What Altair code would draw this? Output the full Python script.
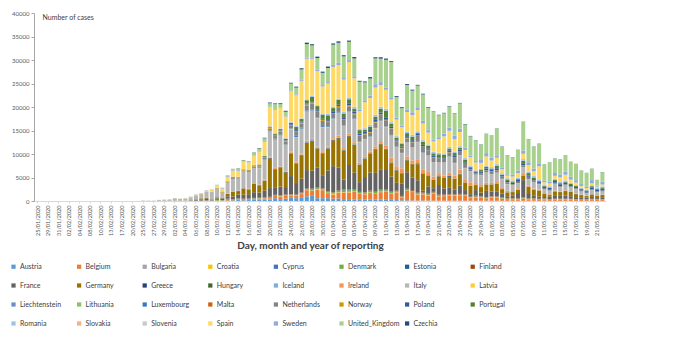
import altair as alt
import pandas as pd

DATES = [
    "25/01/2020", "27/01/2020", "29/01/2020", "30/01/2020", "31/01/2020", "01/02/2020", "02/02/2020",
    "03/02/2020", "04/02/2020", "06/02/2020", "08/02/2020", "09/02/2020", "10/02/2020", "12/02/2020",
    "13/02/2020", "15/02/2020", "17/02/2020", "18/02/2020", "20/02/2020", "22/02/2020", "25/02/2020",
    "26/02/2020", "27/02/2020", "28/02/2020", "29/02/2020", "01/03/2020",
    "02/03/2020", "03/03/2020", "04/03/2020", "05/03/2020", "06/03/2020", "07/03/2020", "08/03/2020",
    "09/03/2020", "10/03/2020", "11/03/2020", "12/03/2020", "13/03/2020", "14/03/2020", "15/03/2020",
    "16/03/2020", "17/03/2020", "18/03/2020", "19/03/2020", "20/03/2020", "21/03/2020", "22/03/2020",
    "23/03/2020", "24/03/2020", "25/03/2020", "26/03/2020", "27/03/2020", "28/03/2020", "29/03/2020",
    "30/03/2020", "31/03/2020",
    "01/04/2020", "02/04/2020", "03/04/2020", "04/04/2020", "05/04/2020", "06/04/2020", "07/04/2020",
    "08/04/2020", "09/04/2020", "10/04/2020", "11/04/2020", "12/04/2020", "13/04/2020", "14/04/2020",
    "15/04/2020", "16/04/2020", "17/04/2020", "18/04/2020", "19/04/2020", "20/04/2020", "21/04/2020",
    "22/04/2020", "23/04/2020", "24/04/2020", "25/04/2020", "26/04/2020", "27/04/2020", "28/04/2020",
    "29/04/2020", "30/04/2020",
    "01/05/2020", "02/05/2020", "03/05/2020", "04/05/2020", "05/05/2020", "06/05/2020", "07/05/2020",
    "08/05/2020", "09/05/2020", "10/05/2020", "11/05/2020", "12/05/2020", "13/05/2020", "14/05/2020",
    "15/05/2020", "16/05/2020", "17/05/2020", "18/05/2020", "19/05/2020", "20/05/2020", "21/05/2020",
    "22/05/2020",
]

Y_TICKS = [0, 5000, 10000, 15000, 20000, 25000, 30000, 35000, 40000]

COUNTRIES = [
    "Austria", "Belgium", "Bulgaria", "Croatia", "Cyprus", "Denmark", "Estonia", "Finland",
    "France", "Germany", "Greece", "Hungary", "Iceland", "Ireland", "Italy", "Latvia",
    "Liechtenstein", "Lithuania", "Luxembourg", "Malta", "Netherlands", "Norway", "Poland", "Portugal",
    "Romania", "Slovakia", "Slovenia", "Spain", "Sweden", "United_Kingdom", "Czechia",
]

COLORS = [
    "#5B9BD5", "#ED7D31", "#A5A5A5", "#FFC000", "#4472C4", "#70AD47", "#255E91", "#9E480E",
    "#636363", "#997300", "#264478", "#43682B", "#7CAFDD", "#F1975A", "#B7B7B7", "#FFCD33",
    "#698ED0", "#8CC168", "#327DC2", "#D26012", "#848484", "#CC9A00", "#335AA1", "#548235",
    "#9DC3E6", "#F4B183", "#C9C9C9", "#FFD966", "#8FAADC", "#A9D18E", "#1F4E79",
]

# values per reporting date, same order as DATES
AUSTRIA = [
    0, 0, 0, 0, 0, 0, 0, 0, 0, 0, 0, 0, 0, 0, 0, 0, 0, 0, 0, 0, 0, 2, 1, 0, 5, 4,
    4, 4, 2, 10, 12, 14, 25, 31, 27, 51,
    100, 140, 200, 150, 200, 300, 350, 300, 300, 600,
    400, 500, 800, 600, 800, 1000, 1100, 600, 600, 600,
    500, 550, 400, 400, 300, 250, 300, 300, 300, 300,
    250, 250, 200, 150, 150, 100, 100, 100, 80, 80,
    60, 60, 70, 70, 70, 60, 60, 50, 50, 60,
    60, 60, 50, 40, 40, 40, 40, 40, 40, 30,
    30, 30, 30, 30, 30, 30, 30, 30, 30, 30,
    20, 30,
]
BELGIUM = [
    0, 0, 0, 0, 0, 0, 0, 0, 1, 0, 0, 0, 0, 0, 0, 0, 0, 0, 0, 0, 0, 0, 0, 0, 0, 1,
    0, 1, 5, 10, 27, 59, 60, 31, 39, 28,
    130, 85, 160, 130, 200, 170, 185, 243, 309, 462,
    558, 586, 342, 526, 668, 1298, 1049, 1850, 1702, 1063,
    876, 1189, 1384, 1422, 1661, 1260, 1123, 1380, 1209, 1580,
    1684, 1351, 1629, 530, 2000, 1800, 1236, 1329, 1045, 1487,
    933, 973, 1035, 1000, 1032, 1033, 553, 701, 647, 502,
    660, 600, 455, 361, 323, 240, 500, 300, 356, 244,
    309, 197, 264, 279, 290, 297, 228, 196, 215, 274,
    299, 263,
]
BULGARIA = [
    0, 0, 0, 0, 0, 0, 0, 0, 0, 0, 0, 0, 0, 0, 0, 0, 0, 0, 0, 0, 0, 0, 0, 0, 0, 0,
    0, 0, 0, 0, 0, 0, 0, 2, 2, 2,
    0, 3, 16, 3, 8, 10, 22, 11, 17, 30,
    34, 26, 38, 16, 22, 22, 28, 50, 20, 49,
    40, 22, 50, 25, 32, 20, 24, 30, 18, 53,
    30, 40, 47, 35, 46, 22, 43, 29, 57, 53,
    24, 58, 40, 48, 43, 50, 84, 56, 38, 30,
    43, 86, 37, 22, 38, 58, 29, 30, 25, 15,
    32, 24, 39, 25, 27, 15, 32, 24, 26, 24,
    26, 15,
]
CROATIA = [
    0, 0, 0, 0, 0, 0, 0, 0, 0, 0, 0, 0, 0, 0, 0, 0, 0, 0, 0, 0, 0, 2, 1, 2, 0, 2,
    4, 0, 1, 1, 0, 0, 1, 0, 0, 2,
    2, 8, 7, 13, 16, 14, 8, 14, 26, 24,
    67, 52, 52, 40, 60, 59, 71, 61, 56, 55,
    96, 96, 91, 79, 49, 50, 46, 100, 46, 55,
    55, 44, 62, 41, 36, 44, 42, 59, 59, 20,
    28, 21, 42, 43, 31, 18, 19, 17, 16, 11,
    19, 9, 6, 0, 10, 10, 4, 12, 17, 13,
    8, 2, 1, 6, 3, 1, 0, 2, 1, 0,
    1, 3,
]
CYPRUS = [
    0, 0, 0, 0, 0, 0, 0, 0, 0, 0, 0, 0, 0, 0, 0, 0, 0, 0, 0, 0, 0, 0, 0, 0, 0, 0,
    0, 0, 0, 0, 0, 0, 0, 0, 2, 4,
    0, 0, 0, 7, 0, 19, 0, 12, 25, 26,
    0, 75, 21, 19, 14, 17, 14, 16, 17, 8,
    58, 26, 0, 54, 15, 17, 20, 21, 10, 30,
    28, 23, 0, 0, 8, 15, 0, 12, 28, 11,
    0, 0, 5, 0, 4, 11, 11, 5, 7, 3,
    3, 5, 1, 5, 3, 3, 2, 2, 0, 2,
    2, 4, 2, 2, 1, 1, 0, 0, 2, 0,
    1, 2,
]
DENMARK = [
    0, 0, 0, 0, 0, 0, 0, 0, 0, 0, 0, 0, 0, 0, 0, 0, 0, 0, 0, 0, 0, 0, 0, 1, 0, 0,
    0, 1, 5, 5, 10, 8, 18, 50, 172, 89,
    200, 60, 130, 50, 30, 60, 70, 100, 100, 50,
    60, 40, 90, 100, 150, 150, 200, 150, 200, 200,
    250, 250, 350, 300, 300, 300, 300, 300, 350, 300,
    200, 180, 150, 200, 200, 150, 200, 150, 150, 150,
    150, 150, 150, 150, 150, 150, 120, 150, 150, 130,
    130, 120, 130, 100, 120, 120, 120, 100, 100, 100,
    80, 80, 80, 80, 80, 70, 70, 70, 70, 70,
    50, 60,
]
ESTONIA = [
    0, 0, 0, 0, 0, 0, 0, 0, 0, 0, 0, 0, 0, 0, 0, 0, 0, 0, 0, 0, 0, 0, 0, 1, 0, 0,
    0, 0, 0, 0, 1, 2, 4, 0, 3, 0,
    8, 6, 27, 80, 36, 47, 28, 57, 76, 46,
    48, 26, 44, 20, 35, 36, 52, 37, 56, 80,
    26, 34, 78, 70, 65, 68, 22, 48, 47, 41,
    56, 97, 40, 29, 28, 27, 29, 28, 43, 24,
    43, 24, 25, 10, 40, 10, 13, 27, 11, 36,
    6, 30, 7, 5, 8, 12, 13, 7, 7, 8,
    6, 5, 8, 8, 8, 5, 12, 11, 4, 5,
    6, 3,
]
FINLAND = [
    0, 0, 1, 0, 0, 0, 0, 0, 0, 0, 0, 0, 0, 0, 0, 0, 0, 0, 0, 0, 0, 0, 1, 0, 0, 0,
    1, 0, 4, 1, 6, 3, 3, 15, 10, 10,
    69, 45, 47, 70, 38, 43, 27, 40, 40, 80,
    71, 100, 80, 50, 74, 78, 122, 94, 90, 72,
    70, 86, 79, 77, 81, 168, 59, 100, 130, 100,
    150, 114, 118, 103, 150, 170, 128, 80, 150, 121,
    110, 102, 134, 79, 150, 90, 100, 121, 60, 83,
    96, 56, 90, 89, 65, 110, 90, 100, 76, 67,
    62, 60, 70, 69, 40, 60, 47, 36, 48, 59,
    39, 30,
]
FRANCE = [
    3, 0, 1, 0, 1, 0, 0, 0, 0, 0, 5, 0, 0, 0, 0, 1, 0, 0, 0, 0, 2, 2, 3, 20, 19, 43,
    12, 61, 21, 73, 138, 190, 336, 177, 286, 372,
    497, 595, 785, 838, 924, 1210, 1097, 1404, 1861, 1617,
    1847, 1559, 3838, 2446, 2931, 3922, 3809, 4300, 2599, 4376,
    5500, 4861, 2116, 5233, 3500, 1873, 3200, 3777, 3881, 4286,
    4342, 3114, 1613, 2673, 3500, 2633, 2641, 405, 1500, 785,
    2051, 1283, 1300, 1000, 1800, 900, 500, 1200, 800, 1300,
    1000, 1100, 800, 400, 600, 1100, 3640, 1100, 600, 500,
    300, 500, 600, 600, 700, 550, 400, 300, 300, 400,
    200, 400,
]
GERMANY = [
    0, 1, 3, 0, 1, 1, 0, 1, 2, 2, 1, 0, 0, 2, 0, 0, 0, 0, 0, 0, 0, 2, 4, 10, 30, 22,
    10, 28, 28, 66, 138, 284, 163, 55, 237, 157,
    500, 1000, 700, 1300, 1000, 1800, 1500, 2100, 6300, 3800,
    4000, 3100, 4764, 4118, 4954, 5780, 6294, 3965, 4751, 4615,
    5453, 6156, 6174, 6082, 5936, 3677, 3834, 4003, 4974, 5323,
    4133, 2821, 2537, 2082, 2486, 2866, 3380, 3609, 2200, 1775,
    1785, 2237, 2352, 2337, 2337, 1514, 1737, 1018, 1144, 1304,
    1478, 1639, 945, 793, 679, 685, 947, 1284, 1209, 1251,
    667, 357, 933, 798, 933, 913, 620, 583, 342, 513,
    500, 460,
]
GREECE = [
    0, 0, 0, 0, 0, 0, 0, 0, 0, 0, 0, 0, 0, 0, 0, 0, 0, 0, 0, 0, 0, 0, 1, 2, 0, 3,
    0, 1, 2, 3, 21, 0, 41, 7, 10, 6,
    9, 40, 73, 38, 35, 23, 64, 31, 100, 48,
    94, 94, 71, 70, 48, 71, 95, 72, 74, 72,
    102, 129, 74, 90, 42, 62, 60, 60, 56, 54,
    90, 50, 90, 40, 18, 25, 14, 29, 30, 18,
    0, 11, 155, 0, 28, 13, 13, 21, 10, 15,
    16, 12, 4, 10, 7, 15, 15, 20, 4, 5,
    0, 3, 11, 0, 8, 5, 10, 2, 0, 8,
    13, 0,
]
HUNGARY = [
    0, 0, 0, 0, 0, 0, 0, 0, 0, 0, 0, 0, 0, 0, 0, 0, 0, 0, 0, 0, 0, 0, 0, 0, 0, 0,
    0, 0, 1, 1, 1, 0, 2, 2, 2, 4,
    3, 3, 0, 11, 3, 11, 8, 11, 23, 18,
    18, 21, 36, 38, 40, 40, 39, 35, 31, 36,
    45, 33, 38, 56, 55, 16, 64, 50, 73, 78,
    85, 111, 77, 60, 99, 68, 210, 78, 100, 50,
    114, 100, 100, 58, 97, 86, 72, 54, 65, 66,
    40, 25, 20, 40, 30, 30, 47, 25, 23, 27,
    37, 32, 23, 26, 44, 35, 39, 16, 40, 30,
    10, 15,
]
ICELAND = [
    0, 0, 0, 0, 0, 0, 0, 0, 0, 0, 0, 0, 0, 0, 0, 0, 0, 0, 0, 0, 0, 0, 0, 0, 1, 2,
    3, 5, 6, 8, 8, 5, 8, 10, 15, 10,
    10, 24, 39, 27, 56, 24, 31, 32, 80, 36,
    68, 55, 97, 91, 78, 70, 95, 73, 37, 65,
    56, 99, 64, 66, 60, 35, 62, 34, 25, 50,
    27, 19, 28, 12, 10, 14, 12, 7, 9, 6,
    6, 5, 7, 1, 1, 4, 3, 1, 2, 1,
    0, 0, 2, 1, 0, 0, 2, 0, 0, 1,
    0, 0, 0, 0, 0, 0, 1, 0, 0, 0,
    0, 0,
]
IRELAND = [
    0, 0, 0, 0, 0, 0, 0, 0, 0, 0, 0, 0, 0, 0, 0, 0, 0, 0, 0, 0, 0, 0, 0, 0, 0, 1,
    0, 1, 0, 4, 1, 5, 5, 2, 0, 10,
    9, 27, 20, 40, 40, 40, 70, 190, 190, 200,
    100, 120, 200, 200, 250, 300, 250, 300, 200, 300,
    300, 400, 400, 400, 400, 400, 400, 350, 500, 500,
    600, 1000, 800, 1000, 700, 700, 700, 800, 700, 600,
    600, 400, 600, 600, 900, 700, 700, 400, 400, 400,
    300, 300, 200, 300, 200, 300, 300, 200, 200, 200,
    150, 150, 150, 100, 100, 100, 80, 60, 60, 60,
    40, 50,
]
ITALY = [
    0, 0, 0, 0, 2, 0, 0, 0, 0, 0, 0, 0, 0, 0, 0, 0, 0, 0, 0, 17, 93, 78, 70, 200, 238, 240,
    561, 347, 466, 587, 769, 778, 1247, 1492, 1797, 977,
    2313, 2651, 2547, 3497, 3590, 3233, 3526, 4207, 5322, 5986,
    6557, 5560, 4789, 5249, 5210, 6153, 5959, 5974, 5217, 4050,
    4053, 4782, 4668, 4585, 4805, 4316, 3599, 3039, 3836, 4204,
    3951, 4694, 4092, 3153, 2972, 2667, 3786, 3493, 3491, 3047,
    2256, 2729, 3370, 2646, 3021, 2357, 2324, 1739, 2091, 2086,
    1872, 1965, 1900, 1389, 1221, 1075, 1444, 1401, 1327, 1083,
    802, 744, 1402, 888, 992, 789, 875, 675, 451, 813,
    665, 642,
]
LATVIA = [
    0, 0, 0, 0, 0, 0, 0, 0, 0, 0, 0, 0, 0, 0, 0, 0, 0, 0, 0, 0, 0, 0, 0, 0, 0, 0,
    0, 0, 0, 0, 1, 0, 0, 0, 1, 3,
    5, 1, 7, 12, 4, 4, 26, 11, 21, 25,
    13, 15, 32, 17, 24, 17, 42, 25, 16, 30,
    47, 20, 27, 28, 29, 20, 20, 15, 19, 11,
    17, 14, 7, 12, 15, 21, 10, 24, 14, 8,
    9, 10, 7, 9, 11, 22, 15, 14, 9, 15,
    6, 6, 16, 18, 4, 6, 5, 10, 6, 2,
    12, 3, 11, 11, 10, 1, 7, 4, 5, 1,
    8, 5,
]
LIECHTENSTEIN = [
    0, 0, 0, 0, 0, 0, 0, 0, 0, 0, 0, 0, 0, 0, 0, 0, 0, 0, 0, 0, 0, 0, 0, 0, 0, 0,
    0, 0, 0, 0, 0, 0, 0, 0, 0, 0,
    0, 3, 0, 1, 1, 0, 0, 0, 3, 11,
    5, 2, 0, 4, 12, 5, 0, 5, 1, 6,
    0, 3, 0, 0, 0, 6, 2, 1, 0, 0,
    1, 0, 0, 1, 0, 0, 2, 0, 0, 0,
    0, 0, 0, 1, 0, 0, 0, 0, 0, 0,
    0, 0, 0, 0, 0, 0, 0, 0, 0, 0,
    0, 0, 0, 0, 0, 0, 0, 0, 0, 0,
    0, 0,
]
LITHUANIA = [
    0, 0, 0, 0, 0, 0, 0, 0, 0, 0, 0, 0, 0, 0, 0, 0, 0, 0, 0, 0, 0, 0, 0, 1, 0, 0,
    0, 0, 0, 0, 0, 0, 0, 0, 0, 2,
    0, 3, 6, 0, 3, 6, 10, 0, 23, 21,
    25, 26, 52, 26, 33, 42, 36, 34, 76, 58,
    84, 76, 47, 59, 71, 21, 20, 70, 79, 45,
    75, 44, 25, 57, 37, 64, 29, 26, 28, 13,
    23, 24, 51, 30, 49, 18, 22, 34, 26, 25,
    14, 21, 49, 16, 16, 10, 10, 21, 17, 12,
    21, 7, 14, 18, 24, 16, 25, 10, 10, 11,
    20, 28,
]
LUXEMBOURG = [
    0, 0, 0, 0, 0, 0, 0, 0, 0, 0, 0, 0, 0, 0, 0, 0, 0, 0, 0, 0, 0, 0, 0, 0, 0, 1,
    0, 0, 0, 1, 1, 1, 2, 0, 2, 2,
    3, 12, 7, 8, 21, 30, 59, 63, 135, 186,
    127, 86, 77, 224, 164, 152, 234, 120, 180, 156,
    95, 130, 100, 85, 140, 80, 40, 83, 140, 90,
    70, 90, 41, 57, 22, 34, 43, 90, 50, 27,
    17, 18, 34, 30, 26, 20, 20, 9, 10, 11,
    15, 7, 17, 10, 4, 2, 14, 15, 16, 6,
    3, 10, 17, 5, 6, 9, 6, 2, 0, 3,
    6, 8,
]
MALTA = [
    0, 0, 0, 0, 0, 0, 0, 0, 0, 0, 0, 0, 0, 0, 0, 0, 0, 0, 0, 0, 0, 0, 0, 0, 0, 0,
    0, 0, 0, 0, 0, 0, 0, 1, 2, 2,
    1, 3, 0, 9, 6, 7, 6, 8, 11, 16,
    12, 9, 17, 10, 20, 19, 17, 22, 12, 17,
    15, 11, 11, 11, 11, 9, 21, 10, 34, 16,
    7, 8, 10, 7, 2, 8, 0, 7, 4, 5,
    9, 6, 1, 5, 3, 1, 3, 1, 3, 11,
    0, 4, 0, 5, 2, 5, 3, 4, 0, 4,
    0, 2, 3, 7, 3, 5, 0, 1, 5, 2,
    3, 2,
]
NETHERLANDS = [
    0, 0, 0, 0, 0, 0, 0, 0, 0, 0, 0, 0, 0, 0, 0, 0, 0, 0, 0, 0, 0, 0, 0, 1, 6, 5,
    5, 8, 6, 14, 44, 46, 60, 77, 56, 61,
    121, 190, 155, 190, 176, 278, 292, 346, 409, 534,
    637, 573, 545, 811, 852, 1019, 1172, 1159, 1104, 884,
    845, 1019, 1083, 1026, 904, 1224, 952, 777, 969, 1213,
    1335, 1316, 1174, 964, 867, 1061, 1235, 1140, 1066, 964,
    750, 729, 887, 1066, 655, 808, 400, 171, 400, 386,
    514, 475, 445, 335, 199, 232, 386, 455, 319, 252,
    245, 161, 196, 199, 227, 183, 203, 167, 150, 174,
    188, 176,
]
NORWAY = [
    0, 0, 0, 0, 0, 0, 0, 0, 0, 0, 0, 0, 0, 0, 0, 0, 0, 0, 0, 0, 0, 0, 1, 5, 0, 9,
    0, 6, 8, 16, 30, 60, 30, 30, 80, 208,
    150, 200, 100, 150, 100, 120, 150, 150, 200, 150,
    200, 200, 200, 250, 250, 300, 300, 250, 250, 200,
    200, 250, 200, 250, 150, 150, 150, 150, 150, 100,
    100, 100, 100, 100, 100, 100, 100, 100, 100, 80,
    80, 80, 70, 70, 70, 60, 60, 50, 50, 50,
    50, 50, 40, 30, 30, 30, 30, 30, 30, 20,
    20, 20, 20, 20, 20, 20, 20, 20, 20, 20,
    10, 20,
]
POLAND = [
    0, 0, 0, 0, 0, 0, 0, 0, 0, 0, 0, 0, 0, 0, 0, 0, 0, 0, 0, 0, 0, 0, 0, 0, 0, 0,
    0, 0, 1, 0, 4, 1, 6, 5, 5, 9,
    20, 20, 17, 40, 30, 50, 80, 70, 70, 110,
    100, 100, 150, 180, 200, 170, 250, 200, 200, 200,
    250, 250, 400, 400, 400, 300, 400, 400, 400, 400,
    400, 300, 300, 300, 350, 350, 350, 350, 300, 300,
    250, 300, 350, 350, 400, 300, 300, 300, 300, 400,
    400, 400, 300, 300, 300, 400, 400, 300, 300, 300,
    300, 400, 400, 400, 400, 300, 300, 300, 300, 400,
    300, 400,
]
PORTUGAL = [
    0, 0, 0, 0, 0, 0, 0, 0, 0, 0, 0, 0, 0, 0, 0, 0, 0, 0, 0, 0, 0, 0, 0, 0, 0, 0,
    0, 2, 2, 3, 4, 8, 9, 9, 20, 11,
    40, 19, 34, 57, 80, 86, 117, 194, 143, 235,
    260, 320, 302, 633, 549, 724, 902, 792, 902, 1035,
    808, 1035, 783, 852, 638, 754, 452, 712, 699, 815,
    1516, 598, 349, 514, 643, 750, 181, 657, 500, 521,
    629, 516, 371, 603, 444, 595, 163, 183, 295, 345,
    178, 553, 92, 326, 242, 178, 533, 480, 334, 138,
    163, 98, 234, 219, 187, 288, 226, 98, 173, 252,
    219, 288,
]
ROMANIA = [
    0, 0, 0, 0, 0, 0, 0, 0, 0, 0, 0, 0, 0, 0, 0, 0, 0, 0, 0, 0, 0, 0, 1, 0, 0, 2,
    0, 0, 0, 1, 2, 1, 2, 6, 4, 10,
    20, 15, 20, 30, 40, 50, 60, 60, 70, 60,
    100, 90, 140, 190, 130, 150, 200, 200, 200, 300,
    300, 250, 300, 350, 400, 300, 300, 350, 400, 400,
    400, 400, 300, 300, 350, 350, 350, 350, 300, 300,
    300, 300, 350, 300, 300, 300, 200, 200, 250, 300,
    300, 300, 300, 250, 250, 300, 350, 300, 300, 300,
    250, 250, 250, 250, 250, 200, 200, 200, 200, 200,
    150, 200,
]
SLOVAKIA = [
    0, 0, 0, 0, 0, 0, 0, 0, 0, 0, 0, 0, 0, 0, 0, 0, 0, 0, 0, 0, 0, 0, 0, 0, 0, 0,
    0, 0, 0, 0, 0, 1, 0, 2, 3, 1,
    7, 11, 3, 11, 32, 28, 31, 11, 64, 56,
    17, 47, 20, 19, 27, 41, 22, 19, 22, 25,
    37, 23, 24, 74, 40, 25, 51, 34, 21, 44,
    20, 14, 36, 2, 12, 19, 9, 10, 31, 31,
    37, 15, 3, 14, 11, 16, 40, 22, 7, 11,
    9, 25, 9, 3, 7, 6, 0, 8, 18, 6,
    1, 2, 4, 3, 1, 11, 0, 2, 3, 3,
    2, 4,
]
SLOVENIA = [
    0, 0, 0, 0, 0, 0, 0, 0, 0, 0, 0, 0, 0, 0, 0, 0, 0, 0, 0, 0, 0, 0, 0, 0, 0, 0,
    0, 0, 0, 1, 6, 1, 4, 8, 16, 7,
    41, 45, 45, 34, 78, 34, 39, 55, 34, 50,
    69, 31, 47, 34, 35, 40, 37, 30, 46, 46,
    38, 36, 32, 36, 21, 19, 33, 30, 25, 23,
    32, 19, 17, 11, 33, 24, 12, 14, 24, 11,
    8, 5, 22, 10, 12, 6, 4, 6, 7, 4,
    12, 4, 5, 0, 6, 1, 4, 3, 2, 2,
    3, 2, 2, 3, 0, 1, 0, 1, 0, 1,
    2, 2,
]
SPAIN = [
    0, 0, 0, 0, 0, 1, 0, 0, 0, 0, 0, 0, 1, 0, 0, 0, 0, 0, 0, 0, 4, 6, 3, 10, 13, 15,
    10, 45, 15, 60, 110, 140, 150, 380, 560, 570,
    870, 1270, 1300, 1520, 1440, 1980, 2540, 2830, 4000, 4950,
    4350, 4510, 6584, 6500, 7937, 8578, 7871, 7200, 5700, 6398,
    8400, 7100, 6850, 7472, 6023, 3700, 5478, 5700, 5756, 4576,
    4000, 4800, 3477, 3268, 4100, 4200, 4500, 3500, 2500, 2200,
    2900, 3600, 3400, 2600, 3000, 1729, 1831, 1650, 1270, 1900,
    1400, 1366, 838, 545, 800, 996, 1122, 1410, 1000, 2800,
    500, 600, 594, 1000, 1200, 643, 500, 400, 300, 400,
    300, 400,
]
SWEDEN = [
    0, 0, 0, 0, 1, 0, 0, 0, 0, 0, 0, 0, 0, 0, 0, 0, 0, 0, 0, 0, 0, 0, 5, 1, 6, 0,
    3, 2, 7, 20, 35, 40, 60, 42, 45, 122,
    150, 120, 150, 100, 80, 110, 100, 140, 130, 150,
    120, 100, 150, 200, 300, 250, 300, 350, 300, 300,
    400, 500, 500, 400, 400, 350, 400, 500, 700, 600,
    500, 450, 450, 350, 500, 600, 600, 600, 500, 400,
    400, 600, 700, 800, 700, 500, 300, 300, 600, 700,
    600, 500, 400, 300, 400, 500, 700, 600, 600, 500,
    300, 400, 600, 600, 700, 600, 500, 400, 300, 700,
    200, 600,
]
UNITED_KINGDOM = [
    0, 0, 0, 0, 0, 2, 0, 0, 0, 1, 0, 0, 4, 1, 0, 0, 0, 0, 0, 0, 4, 0, 2, 5, 3, 12,
    4, 13, 4, 34, 29, 48, 45, 69, 43, 67,
    134, 208, 342, 251, 152, 407, 676, 643, 714, 1035,
    665, 967, 1427, 1452, 2129, 2885, 2546, 2433, 2619, 3009,
    4324, 4244, 4450, 3900, 3800, 5903, 3802, 3634, 5491, 5000,
    5900, 7500, 4342, 3700, 5252, 4603, 4617, 5599, 4800, 5850,
    4676, 4301, 4451, 4583, 5386, 4913, 4100, 4309, 3300, 4076,
    4700, 5700, 4400, 4040, 3700, 4406, 6111, 4900, 4649, 4300,
    3550, 4080, 3120, 3242, 3446, 3200, 3451, 2870, 2900, 2412,
    1200, 2030,
]
CZECHIA = [
    0, 0, 0, 0, 0, 0, 0, 0, 0, 0, 0, 0, 0, 0, 0, 0, 0, 0, 0, 0, 0, 0, 0, 0, 0, 0,
    3, 2, 0, 7, 7, 7, 7, 6, 9, 20,
    30, 20, 40, 60, 50, 90, 100, 120, 150, 150,
    170, 200, 150, 200, 250, 300, 250, 300, 250, 300,
    250, 300, 250, 250, 300, 200, 200, 300, 250, 300,
    250, 200, 200, 200, 200, 200, 150, 150, 150, 100,
    100, 100, 100, 100, 100, 100, 80, 80, 50, 50,
    50, 50, 50, 40, 40, 40, 40, 40, 40, 40,
    30, 30, 30, 30, 30, 30, 30, 30, 30, 30,
    20, 30,
]

SERIES = [
    AUSTRIA, BELGIUM, BULGARIA, CROATIA, CYPRUS, DENMARK, ESTONIA, FINLAND,
    FRANCE, GERMANY, GREECE, HUNGARY, ICELAND, IRELAND, ITALY, LATVIA,
    LIECHTENSTEIN, LITHUANIA, LUXEMBOURG, MALTA, NETHERLANDS, NORWAY, POLAND, PORTUGAL,
    ROMANIA, SLOVAKIA, SLOVENIA, SPAIN, SWEDEN, UNITED_KINGDOM, CZECHIA,
]

for name, vals in zip(COUNTRIES, SERIES):
    assert len(vals) == len(DATES), (name, len(vals))

rows = []
for order, (name, vals) in enumerate(zip(COUNTRIES, SERIES)):
    for date, v in zip(DATES, vals):
        rows.append({"date": date, "country": name, "order": order, "cases": v})
df = pd.DataFrame(rows)

FONT = "Lato"

chart = alt.Chart(df).mark_bar().encode(
    x=alt.X(
        "date:N",
        sort=DATES,
        scale=alt.Scale(paddingInner=0.24, paddingOuter=0.3),
        axis=alt.Axis(
            values=DATES[::2],
            labelAngle=-90,
            labelFontSize=5.5,
            labelColor="#595959",
            labelFont=FONT,
            labelOverlap=False,
            labelPadding=2,
            domainColor="#D9D9D9",
            tickColor="#D9D9D9",
            tickSize=2,
            title="Day, month and year of reporting",
            titleFont=FONT,
            titleFontSize=10,
            titleFontWeight="bold",
            titleColor="#404040",
            titleX=276,
            titleY=44,
            titleBaseline="middle",
        ),
    ),
    y=alt.Y(
        "cases:Q",
        stack="zero",
        scale=alt.Scale(domain=[0, 40000], nice=False),
        axis=alt.Axis(
            values=Y_TICKS,
            grid=False,
            format="d",
            labelFontSize=6,
            labelColor="#595959",
            labelFont=FONT,
            labelPadding=2,
            domainColor="#A6A6A6",
            tickColor="#A6A6A6",
            tickSize=3,
            title="Number of cases",
            titleAngle=0,
            titleAlign="left",
            titleBaseline="middle",
            titleX=8,
            titleY=4,
            titleFont=FONT,
            titleFontSize=7,
            titleFontWeight="normal",
            titleColor="#404040",
        ),
    ),
    color=alt.Color(
        "country:N",
        scale=alt.Scale(domain=COUNTRIES, range=COLORS),
        legend=alt.Legend(
            title=None,
            orient="none",
            legendX=-24,
            legendY=250,
            direction="horizontal",
            columns=8,
            symbolLimit=40,
            symbolType="square",
            symbolSize=18,
            symbolStrokeWidth=0,
            labelFontSize=7,
            labelFont=FONT,
            labelColor="#404040",
            labelOffset=3,
            columnPadding=3.6,
            rowPadding=11,
            gridAlign="all",
            padding=0,
        ),
    ),
    order=alt.Order("order:Q", sort="ascending"),
).properties(
    width=572,
    height=188,
    autosize=alt.AutoSizeParams(type="none"),
    padding={"left": 34, "top": 13, "right": 74, "bottom": 144},
    background="white",
).configure_view(strokeWidth=0)

chart.save("out.html", embed_options={"renderer": "svg", "actions": False})
